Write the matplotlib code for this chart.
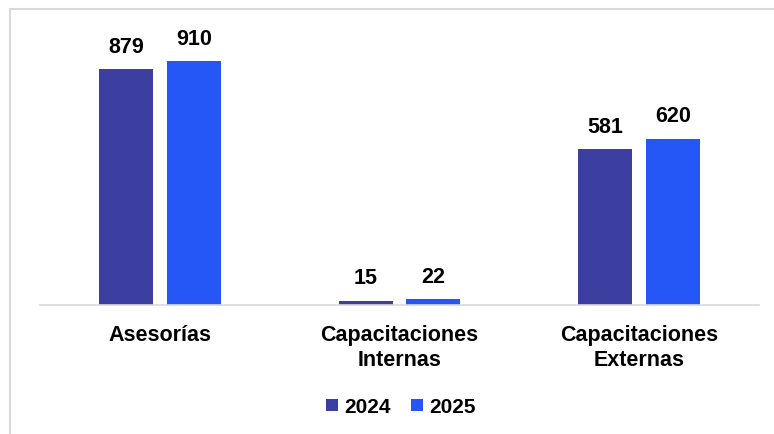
import numpy as np
import matplotlib
matplotlib.use('Agg')
import matplotlib.pyplot as plt
from matplotlib.patches import Rectangle

plt.rcParams['font.family'] = ['Liberation Sans', 'DejaVu Sans']
plt.rcParams['font.weight'] = 'bold'

categorias = ['Asesorías', 'Capacitaciones\nInternas', 'Capacitaciones\nExternas']
series = ['2024', '2025']
valores_2024 = [879, 15, 581]
valores_2025 = [910, 22, 620]
colores = ['#3D3FA0', '#2457F5']

W, H = 774, 435
fig = plt.figure(figsize=(W / 100, H / 100), dpi=100)
ax = fig.add_axes([40 / W, (H - 306) / H, (759 - 40) / W, (306 - 20) / H])

# marco gris claro (recortado a la derecha y abajo)
fig.patches.append(Rectangle((10 / W, -0.1), 1.2, (H - 10) / H + 0.1,
                             transform=fig.transFigure, fill=False,
                             edgecolor='#D9D9D9', linewidth=1.5))

x = np.arange(len(categorias))
ancho = 0.225
off = 34 / 240
for vals, d, col, lab in [(valores_2024, -off, colores[0], series[0]),
                          (valores_2025, off, colores[1], series[1])]:
    bars = ax.bar(x + d, vals, width=ancho, color=col, label=lab, zorder=2)
    for b, v in zip(bars, vals):
        ax.annotate(str(v), (b.get_x() + b.get_width() / 2, v),
                    xytext=(0, 9), textcoords='offset points',
                    ha='center', va='bottom', fontsize=15.5, fontweight='bold')

ax.set_xlim(-0.5, 2.5)
ax.set_ylim(0, 1067)
ax.set_xticks(x)
ax.set_xticklabels(categorias, fontsize=15.5, fontweight='bold', linespacing=1.2)
ax.tick_params(axis='x', length=0, pad=14)
ax.set_yticks([])
for s in ['top', 'right', 'left']:
    ax.spines[s].set_visible(False)
ax.spines['bottom'].set_color('#D9D9D9')
ax.spines['bottom'].set_linewidth(1.2)

leg = fig.legend(loc='center', bbox_to_anchor=(401 / W, (H - 408) / H), ncol=2,
                 frameon=False, fontsize=15, handlelength=0.55, handleheight=0.55,
                 handletextpad=0.3, columnspacing=1.0)

fig.savefig('out.png', dpi=100)
